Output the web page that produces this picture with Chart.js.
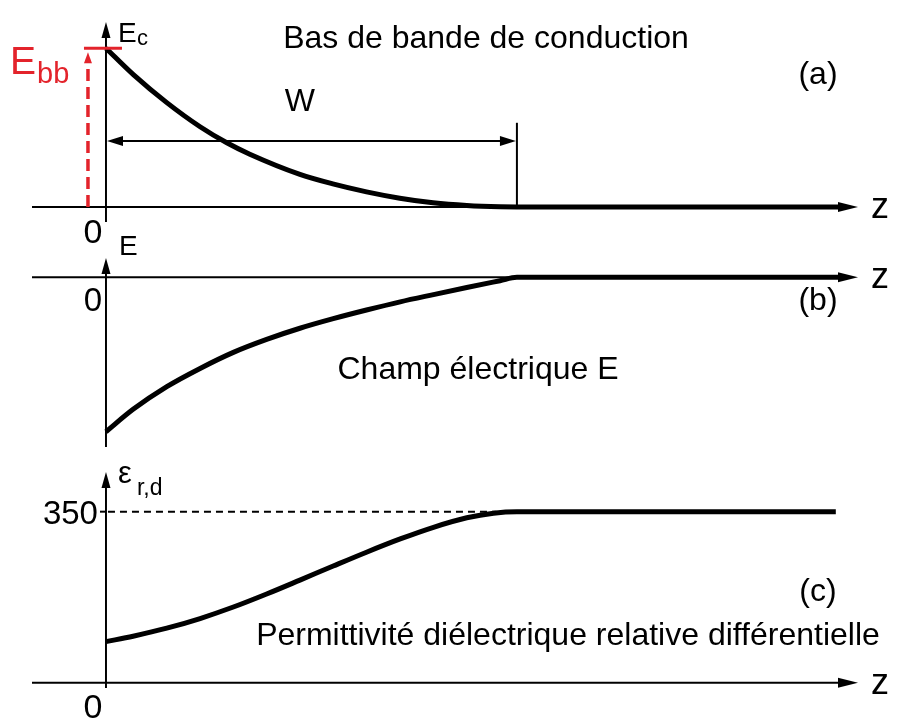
<!DOCTYPE html>
<html>
<head>
<meta charset="utf-8">
<script src="https://cdn.jsdelivr.net/npm/chart.js@4/dist/chart.umd.min.js"></script>
<style>
  html, body { margin: 0; padding: 0; background: #fff; }
  #wrap { position: relative; width: 901px; height: 720px; background: #fff; }
  #wrap canvas { position: absolute; left: 0; top: 0; }
</style>
</head>
<body>
<div id="wrap">
  <canvas id="panelA" width="901" height="720"></canvas>
  <canvas id="panelB" width="901" height="720"></canvas>
  <canvas id="panelC" width="901" height="720"></canvas>
</div>
<script>
// Depth z is expressed in % of the depletion width W (z = 100 at W).
// (a) conduction band bottom, in % of the band bending E_bb
const zBand  = [0, 6.6, 14.8, 22.9, 29.4, 35, 47.2, 55.2, 63.4, 71.5, 79.6, 87.8, 95.9, 100, 178.5];
const ecBand = [100, 83.5, 65.7, 50.5, 40.4, 33.2, 20.5, 14.5, 9.5, 5.5, 2.6, 0.9, 0.1, 0, 0];

// (b) electric field, in % of its surface value
const zField = [0, 6.6, 14.8, 22.9, 31, 39.1, 47.2, 55.3, 63.4, 71.6, 79.7, 87.8, 95.9, 100, 178.5];
const eField = [-100, -85.5, -70.8, -59, -48.6, -40.2, -33, -26.8, -21.2, -15.9, -11.2, -6.6, -2.2, 0, 0];

// (c) relative differential dielectric permittivity
const zPerm   = [0, 6.6, 14.8, 22.9, 31, 39.1, 47.2, 55.3, 63.4, 71.6, 79.7, 87.8, 94.3, 100, 177.6];
const epsPerm = [84, 95.2, 111.6, 131.4, 154.9, 181.6, 210, 238.8, 267.1, 294.2, 318.1, 337.5, 347, 350, 350];

const epsBulk = 350;          // bulk permittivity level
const bandBending = 100;      // E_bb
const depletionWidth = 100;   // W
const wArrowLevel = 41.6;     // height of the W dimension line
const wTickTop = 53;          // top of the W marker

const FONT = "'Liberation Sans', Arial, Helvetica, sans-serif";
const RED = '#e3232b';

function pts(xs, ys) { return xs.map((v, i) => ({ x: v, y: ys[i] })); }

function tri(ctx, tipX, tipY, ang, len, half) {
  const c = Math.cos(ang), s = Math.sin(ang);
  ctx.beginPath();
  ctx.moveTo(tipX, tipY);
  ctx.lineTo(tipX - len * c - half * s, tipY - len * s + half * c);
  ctx.lineTo(tipX - len * c + half * s, tipY - len * s - half * c);
  ctx.closePath();
  ctx.fill();
}

function seg(ctx, x1, y1, x2, y2) {
  ctx.beginPath(); ctx.moveTo(x1, y1); ctx.lineTo(x2, y2); ctx.stroke();
}

function text(ctx, str, x, y, size, align, color) {
  ctx.font = size + 'px ' + FONT;
  ctx.textAlign = align || 'left';
  ctx.textBaseline = 'alphabetic';
  ctx.fillStyle = color || '#000';
  ctx.fillText(str, x, y);
}

// axes with arrow heads, drawn under the curves
function drawAxes(chart) {
  const { ctx, chartArea: a, scales: { x, y } } = chart;
  const x0 = x.getPixelForValue(0), y0 = y.getPixelForValue(0);
  ctx.save();
  ctx.strokeStyle = '#000'; ctx.fillStyle = '#000'; ctx.lineWidth = 2;
  seg(ctx, a.left, y0, a.right - 16, y0);
  tri(ctx, a.right, y0, 0, 20, 5);
  seg(ctx, x0, a.bottom, x0, a.top + 12);
  tri(ctx, x0, a.top, -Math.PI / 2, 16, 4.5);
  text(ctx, 'z', a.right + 13, y0 + 11, 36);
  ctx.restore();
}

function decorA(chart) {
  const { ctx, chartArea: a, scales: { x, y } } = chart;
  const x0 = x.getPixelForValue(0), y0 = y.getPixelForValue(0);
  const yBB = y.getPixelForValue(bandBending);
  const xW = x.getPixelForValue(depletionWidth);
  const yW = y.getPixelForValue(wArrowLevel);
  ctx.save();
  // band bending marker
  ctx.strokeStyle = RED; ctx.fillStyle = RED; ctx.lineWidth = 3;
  seg(ctx, x0 - 22, yBB, x0 + 16, yBB);
  ctx.setLineDash([12, 6]); ctx.lineWidth = 3.5;
  seg(ctx, x0 - 18, y0, x0 - 18, yBB + 12);
  ctx.setLineDash([]);
  tri(ctx, x0 - 18, yBB + 4, -Math.PI / 2, 11, 4);
  text(ctx, 'E', 10, yBB + 26, 39, 'left', RED);
  text(ctx, 'bb', 37, yBB + 35, 29, 'left', RED);
  // depletion width W
  ctx.strokeStyle = '#000'; ctx.fillStyle = '#000'; ctx.lineWidth = 2;
  seg(ctx, x0 + 12, yW, xW - 12, yW);
  tri(ctx, x0 + 1, yW, Math.PI, 16, 5);
  tri(ctx, xW - 1, yW, 0, 16, 5);
  seg(ctx, xW, y0, xW, y.getPixelForValue(wTickTop));
  text(ctx, 'W', x.getPixelForValue(47.2), yW - 30, 32, 'center');
  // labels
  text(ctx, 'E', x0 + 12, a.top + 20, 28);
  text(ctx, 'c', x0 + 31, a.top + 23, 22);
  text(ctx, '0', x0 - 13, y0 + 36, 34, 'center');
  text(ctx, 'Bas de bande de conduction', 486, 48, 32, 'center');
  text(ctx, '(a)', 818, 84, 32, 'center');
  ctx.restore();
}

function decorB(chart) {
  const { ctx, chartArea: a, scales: { x, y } } = chart;
  const x0 = x.getPixelForValue(0), y0 = y.getPixelForValue(0);
  ctx.save();
  text(ctx, 'E', x0 + 13, a.top - 3, 28);
  text(ctx, '0', x0 - 13, y0 + 34, 33, 'center');
  text(ctx, '(b)', 818, 310, 32, 'center');
  text(ctx, 'Champ électrique E', 478, 379, 32, 'center');
  ctx.restore();
}

function decorC(chart) {
  const { ctx, chartArea: a, scales: { x, y } } = chart;
  const x0 = x.getPixelForValue(0), y0 = y.getPixelForValue(0);
  const y350 = y.getPixelForValue(epsBulk);
  ctx.save();
  ctx.strokeStyle = '#000'; ctx.lineWidth = 2;
  seg(ctx, x0 - 6, y350, x0, y350);
  ctx.setLineDash([7, 5]);
  seg(ctx, x0 + 2, y350, x.getPixelForValue(95), y350);
  ctx.setLineDash([]);
  text(ctx, 'ε', x0 + 12, a.top + 11, 31);
  text(ctx, 'r,d', x0 + 31, a.top + 23, 23);
  text(ctx, '350', x0 - 8, y350 + 12, 33, 'right');
  text(ctx, '0', x0 - 13, y0 + 35, 34, 'center');
  text(ctx, '(c)', 818, 601, 32, 'center');
  text(ctx, 'Permittivité diélectrique relative différentielle', 568, 645, 32, 'center');
  ctx.restore();
}

function makePanel(id, points, yMin, yMax, pad, decor, drawFirst) {
  return new Chart(document.getElementById(id), {
    type: 'line',
    data: {
      datasets: [{
        data: points,
        borderColor: '#000',
        borderWidth: 5,
        pointRadius: 0,
        fill: false,
        clip: false,
        cubicInterpolationMode: 'monotone'
      }]
    },
    options: {
      responsive: false,
      animation: false,
      devicePixelRatio: 1,
      events: [],
      layout: { padding: pad },
      plugins: { legend: { display: false }, tooltip: { enabled: false } },
      scales: {
        x: { type: 'linear', min: -18, max: 183, display: false },
        y: { type: 'linear', min: yMin, max: yMax, display: false }
      }
    },
    plugins: [{
      id: 'decor_' + id,
      beforeDraw(c) {
        if (drawFirst) {
          c.ctx.save(); c.ctx.fillStyle = '#fff';
          c.ctx.fillRect(0, 0, c.width, c.height); c.ctx.restore();
        }
      },
      beforeDatasetsDraw(c) { drawAxes(c); },
      afterDatasetsDraw(c) { decor(c); }
    }]
  });
}

makePanel('panelA', pts(zBand, ecBand), -9.5, 116.5,
  { left: 32, right: 43, top: 22, bottom: 498 }, decorA, true);
makePanel('panelB', pts(zField, eField), -109.9, 12.5,
  { left: 32, right: 43, top: 258, bottom: 273 }, decorB, false);
makePanel('panelC', pts(zPerm, epsPerm), -10.8, 431.2,
  { left: 32, right: 43, top: 472, bottom: 32 }, decorC, false);
</script>
</body>
</html>
